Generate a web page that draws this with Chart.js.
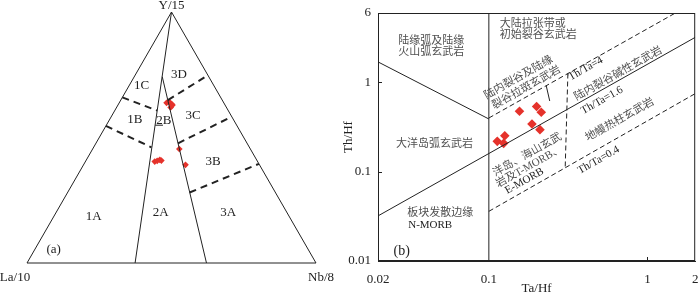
<!DOCTYPE html>
<html>
<head>
<meta charset="utf-8">
<script src="https://cdn.jsdelivr.net/npm/chart.js@4.4.1/dist/chart.umd.min.js"></script>
<style>
  html, body { margin: 0; padding: 0; background: #fff; }
  #wrap { position: relative; width: 700px; height: 294px; overflow: hidden; background: #fff; }
  #triChart { position: absolute; left: 0; top: 0; }
  #logChart { position: absolute; left: 340px; top: 0; }
</style>
</head>
<body>
<div id="wrap">
  <canvas id="triChart" width="340" height="294"></canvas>
  <canvas id="logChart" width="360" height="294"></canvas>
</div>
<script>
const SERIF = "'Liberation Serif', 'Times New Roman', serif";
const CJK = "'Liberation Serif', 'Noto Sans CJK SC', serif";
const INK = '#222';
const GREY = '#505050';
const RED = '#e5322b';

// ---------- (a) 三角图 La/10 - Y/15 - Nb/8, 每个点 [La, Y, Nb] (%) ----------
const triOutline = [[100, 0, 0], [0, 100, 0], [0, 0, 100], [100, 0, 0]];
const triSolidLines = [
  [[0, 100, 0], [62.6, 0, 37.4]],
  [[16.1, 74.2, 9.7], [37.9, 0, 62.1]],
  [[28.2, 54.9, 16.9], [25.5, 54.9, 19.6]]
];
const triDashedLines = [
  [[34.0, 66.0, 0], [24.6, 60.7, 14.7]],
  [[45.4, 54.6, 0], [33.9, 46.1, 20.0]],
  [[18.8, 64.9, 16.3], [0, 74.8, 25.2]],
  [[23.9, 47.7, 28.4], [0, 58.3, 41.7]],
  [[29.7, 28.1, 42.2], [0, 39.5, 60.5]]
];
const triSamples = [
  [19.8, 63.8, 16.4], [18.7, 64.2, 17.1], [18.3, 63.3, 18.4], [19.3, 62.0, 18.7], [18.2, 62.9, 18.9],
  [35.6, 40.4, 24.0], [34.6, 40.7, 24.7], [33.5, 41.1, 25.4], [33.1, 40.8, 26.1],
  [24.6, 45.4, 30.0], [25.6, 39.1, 35.3]
];
const triFields = ['1A', '1B', '1C', '2A', '2B', '3A', '3B', '3C', '3D', '(a)'];
const triFieldAt = [
  [67.7, 18.5, 13.8], [34.2, 57.0, 8.8], [25.1, 70.5, 4.4], [43.8, 19.9, 36.3], [24.3, 56.7, 19.0],
  [20.3, 20.1, 59.6], [15.4, 40.4, 44.2], [13.2, 58.6, 28.2], [9.8, 75.2, 15.0], [88.1, 5.3, 6.6]
];
const triApexNames = ['La/10', 'Y/15', 'Nb/8'];

// ternary -> plane (x along base, y = Y%)
const toXY = ([la, yy, nb]) => ({ x: nb + yy / 2, y: yy });

const triSets = [];
triSets.push({ data: triOutline.map(toXY), showLine: true, borderColor: INK, borderWidth: 1, pointRadius: 0 });
triSolidLines.forEach(seg => triSets.push({ data: seg.map(toXY), showLine: true, borderColor: INK, borderWidth: 1, pointRadius: 0 }));
triDashedLines.forEach(seg => triSets.push({ data: seg.map(toXY), showLine: true, borderColor: INK, borderWidth: 2, borderDash: [7, 5], pointRadius: 0 }));
triSets.push({ data: triSamples.map(toXY), pointStyle: 'rectRot', pointRadius: 3.3, backgroundColor: RED, borderWidth: 0 });

const triText = {
  id: 'triText',
  afterDraw(chart) {
    const { ctx, scales: { x, y } } = chart;
    ctx.save();
    ctx.fillStyle = INK;
    ctx.textAlign = 'center';
    ctx.textBaseline = 'middle';
    ctx.font = '13px ' + SERIF;
    triFields.forEach((t, i) => {
      const p = toXY(triFieldAt[i]);
      ctx.fillText(t, x.getPixelForValue(p.x), y.getPixelForValue(p.y));
    });
    // apex names
    const left = toXY([100, 0, 0]), top = toXY([0, 100, 0]), right = toXY([0, 0, 100]);
    ctx.fillText(triApexNames[0], x.getPixelForValue(left.x) - 12, y.getPixelForValue(left.y) + 15);
    ctx.fillText(triApexNames[1], x.getPixelForValue(top.x), y.getPixelForValue(top.y) - 6);
    ctx.fillText(triApexNames[2], x.getPixelForValue(right.x) + 5, y.getPixelForValue(right.y) + 15);
    ctx.restore();
  }
};

new Chart(document.getElementById('triChart'), {
  type: 'scatter',
  data: { datasets: triSets },
  options: {
    responsive: false,
    animation: false,
    devicePixelRatio: 1,
    layout: { padding: { left: 27, right: 24, top: 12, bottom: 31 } },
    plugins: { legend: { display: false }, tooltip: { enabled: false } },
    elements: { line: { tension: 0 } },
    scales: {
      x: { type: 'linear', min: 0, max: 100, display: false },
      y: { type: 'linear', min: 0, max: 100, display: false }
    },
    datasets: { scatter: { clip: false } }
  },
  plugins: [triText]
});

// ---------- (b) Th/Hf - Ta/Hf ----------
const taHfTicks = [0.02, 0.1, 1, 2];
const thHfTicks = [0.01, 0.1, 1, 6];
const sampleTaHf = [0.113, 0.126, 0.124, 0.156, 0.200, 0.214, 0.187, 0.210];
const sampleThHf = [0.219, 0.253, 0.208, 0.475, 0.537, 0.463, 0.343, 0.296];

// 判别界线 [[Ta/Hf, Th/Hf], ...]
const solidBounds = [
  [[0.1, 0.01], [0.1, 6]],
  [[0.02, 1.7], [0.1, 0.39]],
  [[0.02, 0.032], [2, 3.2]],          // Th/Ta = 1.6
  [[0.23, 0.92], [0.242, 0.62]]
];
const dashedBounds = [
  [[0.1, 0.4], [1.5, 6]],             // Th/Ta = 4
  [[0.1, 0.036], [2, 0.75]],          // Th/Ta = 0.4
  [[0.315, 1.26], [0.303, 0.113]]
];

const logSets = [];
solidBounds.forEach(seg => logSets.push({ data: seg.map(p => ({ x: p[0], y: p[1] })), showLine: true, borderColor: INK, borderWidth: 1, pointRadius: 0 }));
dashedBounds.forEach(seg => logSets.push({ data: seg.map(p => ({ x: p[0], y: p[1] })), showLine: true, borderColor: INK, borderWidth: 1, borderDash: [5, 3], pointRadius: 0 }));
logSets.push({
  data: sampleTaHf.map((v, i) => ({ x: v, y: sampleThHf[i] })),
  pointStyle: 'rectRot', pointRadius: 4.8, backgroundColor: RED, borderWidth: 0
});

// 文字标注 (位置用 Ta/Hf, Th/Hf)
const fieldNotes = [
  { t: '陆缘弧及陆缘', at: [0.0434, 2.89] },
  { t: '火山弧玄武岩', at: [0.0434, 2.2] },
  { t: '大陆拉张带或', at: [0.117, 4.45], align: 'left' },
  { t: '初始裂谷玄武岩', at: [0.117, 3.39], align: 'left' },
  { t: '大洋岛弧玄武岩', at: [0.0454, 0.205] },
  { t: '板块发散边缘', at: [0.0493, 0.0341] },
  { t: 'N-MORB', at: [0.031, 0.0252], align: 'left', ink: true },
  { t: '(b)', at: [0.0282, 0.0129], ink: true, size: 14 },
  { t: '陆内裂谷及陆缘', at: [0.154, 1.13], rot: true },
  { t: '裂谷拉斑玄武岩', at: [0.1725, 0.872], rot: true },
  { t: 'Th/Ta=4', at: [0.408, 1.425], rot: true, ink: true },
  { t: '陆内裂谷碱性玄武岩', at: [0.655, 1.25], rot: true },
  { t: 'Th/Ta=1.6', at: [0.517, 0.631], rot: true, ink: true },
  { t: '地幔热柱玄武岩', at: [0.67, 0.381], rot: true },
  { t: 'Th/Ta=0.4', at: [0.492, 0.135], rot: true, ink: true },
  { t: '洋岛、海山玄武', at: [0.175, 0.154], rot: true },
  { t: '岩及T-MORB、', at: [0.18, 0.114], rot: true },
  { t: 'E-MORB', at: [0.1675, 0.0786], rot: true, ink: true }
];

const logDecor = {
  id: 'logDecor',
  afterDraw(chart) {
    const { ctx, chartArea: a, scales: { x, y } } = chart;
    ctx.save();
    // frame
    ctx.strokeStyle = INK;
    ctx.lineWidth = 1;
    ctx.strokeRect(a.left + 0.5, a.top + 0.5, a.right - a.left - 1, a.bottom - a.top - 1);
    // inward ticks
    ctx.beginPath();
    [1].forEach(v => { const px = Math.round(x.getPixelForValue(v)) + 0.5; ctx.moveTo(px, a.bottom); ctx.lineTo(px, a.bottom - 4); });
    [0.1, 1].forEach(v => { const py = Math.round(y.getPixelForValue(v)) + 0.5; ctx.moveTo(a.left, py); ctx.lineTo(a.left + 4, py); });
    ctx.stroke();
    // slope of a Th/Ta = const line on screen
    const ang = Math.atan2(y.getPixelForValue(1) - y.getPixelForValue(0.1), x.getPixelForValue(1) - x.getPixelForValue(0.1));
    ctx.textBaseline = 'middle';
    fieldNotes.forEach(n => {
      const px = x.getPixelForValue(n.at[0]), py = y.getPixelForValue(n.at[1]);
      ctx.fillStyle = n.ink ? INK : GREY;
      ctx.font = (n.size || 11) + 'px ' + CJK;
      ctx.textAlign = n.align || 'center';
      ctx.save();
      ctx.translate(px, py);
      if (n.rot) ctx.rotate(ang);
      ctx.fillText(n.t, 0, 0);
      ctx.restore();
    });
    ctx.restore();
  }
};

new Chart(document.getElementById('logChart'), {
  type: 'scatter',
  data: { datasets: logSets },
  options: {
    responsive: false,
    animation: false,
    devicePixelRatio: 1,
    layout: { padding: { left: 0, right: 2, top: 13, bottom: 0 } },
    plugins: { legend: { display: false }, tooltip: { enabled: false } },
    scales: {
      x: {
        type: 'logarithmic', min: 0.02, max: 2,
        grid: { display: false, drawTicks: false },
        border: { display: true, color: INK },
        afterBuildTicks: s => { s.ticks = taHfTicks.map(v => ({ value: v })); },
        afterFit: s => { s.height = 33; s.paddingLeft = 0; s.paddingRight = 0; },
        ticks: { autoSkip: false, maxRotation: 0, padding: 11, color: INK, font: { family: SERIF, size: 13 }, callback: v => String(v) },
        title: { display: true, text: 'Ta/Hf', color: INK, padding: 0, font: { family: SERIF, size: 13, lineHeight: 0.8 } }
      },
      y: {
        type: 'logarithmic', min: 0.01, max: 6,
        grid: { display: false, drawTicks: false },
        border: { display: true, color: INK },
        afterBuildTicks: s => { s.ticks = thHfTicks.map(v => ({ value: v })); },
        afterFit: s => { s.width = 38; s.paddingTop = 0; s.paddingBottom = 0; },
        ticks: { autoSkip: false, padding: 7, color: INK, font: { family: SERIF, size: 13 }, callback: v => String(v) },
        title: { display: true, text: 'Th/Hf', color: INK, padding: { top: 1, bottom: 0 }, font: { family: SERIF, size: 13 } }
      }
    }
  },
  plugins: [logDecor]
});
</script>
</body>
</html>
